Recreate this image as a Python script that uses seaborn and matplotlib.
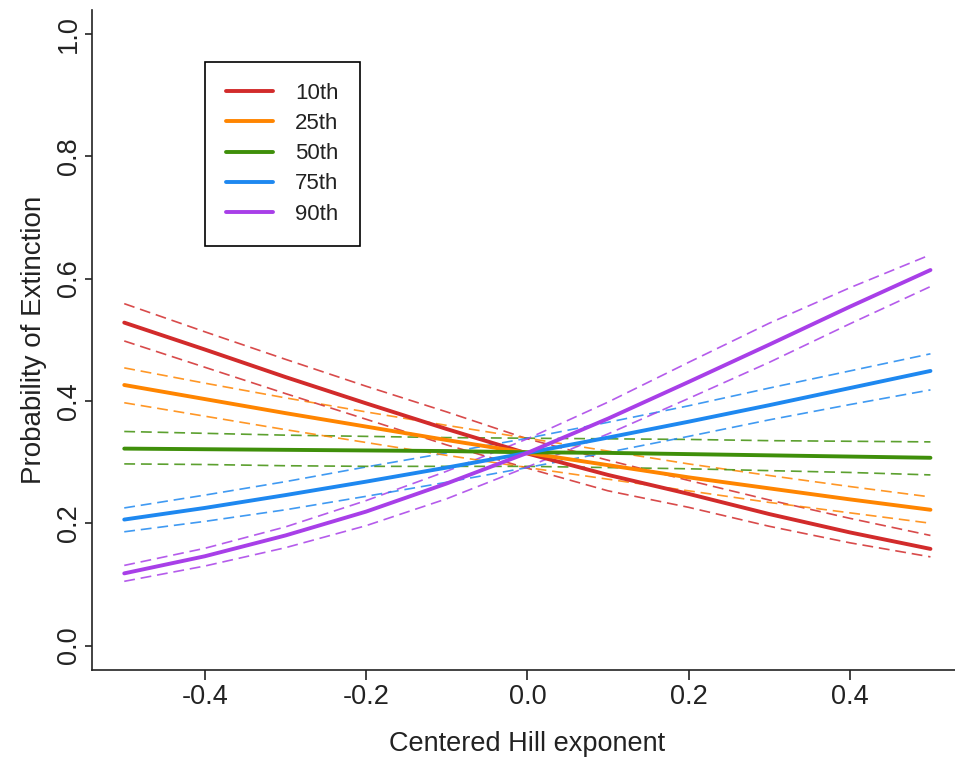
import numpy as np
import pandas as pd
import matplotlib
matplotlib.use("Agg")
import matplotlib.pyplot as plt
import seaborn as sns

# Data
hill = [-0.5, -0.4, -0.3, -0.2, -0.1, 0.0, 0.1, 0.2, 0.3, 0.4, 0.5]
groups = ["10th", "25th", "50th", "75th", "90th"]

mean_10 = [0.528, 0.484, 0.439, 0.396, 0.354, 0.314, 0.279, 0.248, 0.215, 0.185, 0.158]
upper_10 = [0.559, 0.513, 0.468, 0.424, 0.382, 0.338, 0.303, 0.270, 0.238, 0.208, 0.180]
lower_10 = [0.498, 0.455, 0.412, 0.370, 0.328, 0.290, 0.253, 0.226, 0.195, 0.168, 0.145]

mean_25 = [0.426, 0.403, 0.380, 0.358, 0.336, 0.315, 0.295, 0.275, 0.257, 0.239, 0.222]
upper_25 = [0.454, 0.429, 0.405, 0.382, 0.360, 0.339, 0.318, 0.297, 0.278, 0.260, 0.243]
lower_25 = [0.397, 0.375, 0.353, 0.332, 0.311, 0.291, 0.272, 0.253, 0.234, 0.217, 0.200]

mean_50 = [0.322, 0.321, 0.320, 0.319, 0.318, 0.316, 0.315, 0.313, 0.311, 0.309, 0.307]
upper_50 = [0.350, 0.347, 0.344, 0.342, 0.340, 0.339, 0.338, 0.337, 0.335, 0.334, 0.333]
lower_50 = [0.297, 0.296, 0.294, 0.293, 0.293, 0.293, 0.291, 0.289, 0.286, 0.283, 0.279]

mean_75 = [0.206, 0.225, 0.246, 0.268, 0.291, 0.315, 0.340, 0.366, 0.393, 0.421, 0.449]
upper_75 = [0.225, 0.246, 0.268, 0.292, 0.315, 0.339, 0.365, 0.392, 0.421, 0.449, 0.477]
lower_75 = [0.186, 0.203, 0.222, 0.244, 0.267, 0.291, 0.316, 0.342, 0.369, 0.394, 0.418]

mean_90 = [0.118, 0.146, 0.180, 0.219, 0.265, 0.315, 0.371, 0.431, 0.492, 0.554, 0.614]
upper_90 = [0.131, 0.159, 0.194, 0.237, 0.285, 0.338, 0.398, 0.463, 0.527, 0.585, 0.639]
lower_90 = [0.105, 0.130, 0.160, 0.196, 0.240, 0.292, 0.346, 0.404, 0.463, 0.526, 0.587]

colors = ["#D22B2B", "#FF8500", "#3F8F0A", "#1E88F0", "#A83FE8"]

means = [mean_10, mean_25, mean_50, mean_75, mean_90]
uppers = [upper_10, upper_25, upper_50, upper_75, upper_90]
lowers = [lower_10, lower_25, lower_50, lower_75, lower_90]

rows = []
for g, m, u, l in zip(groups, means, uppers, lowers):
    for x, mv, uv, lv in zip(hill, m, u, l):
        rows.append({"x": x, "group": g, "mean": mv, "upper": uv, "lower": lv})
df = pd.DataFrame(rows)

sns.set_style("ticks")
plt.rcParams["font.family"] = ["Liberation Sans", "DejaVu Sans"]

fig = plt.figure(figsize=(9.55, 7.58), dpi=100)
ax = fig.add_axes([92 / 955, 88 / 758, (962.7 - 92) / 955, (670 - 9.5) / 758])

palette = dict(zip(groups, colors))
for col in ["upper", "lower"]:
    sns.lineplot(data=df, x="x", y=col, hue="group", palette=palette, ax=ax,
                 linewidth=1.2, dashes=False, legend=False, alpha=0.85,
                 estimator=None, sort=True)
for line in ax.get_lines():
    line.set_dashes((6.5, 3.5))
sns.lineplot(data=df, x="x", y="mean", hue="group", palette=palette, ax=ax,
             linewidth=2.8, legend=True, estimator=None, sort=True)

TXT = "#222222"
FS = 19.5
ax.set_xlim(-0.54, 0.54)
ax.set_ylim(-0.04, 1.04)
ax.set_xticks([-0.4, -0.2, 0.0, 0.2, 0.4])
ax.set_xticklabels(["-0.4", "-0.2", "0.0", "0.2", "0.4"])
ax.set_yticks([0.0, 0.2, 0.4, 0.6, 0.8, 1.0])
ax.set_yticklabels(["0.0", "0.2", "0.4", "0.6", "0.8", "1.0"], rotation=90, va="center")
ax.tick_params(axis="both", width=1.2, color=TXT, labelsize=FS, labelcolor=TXT)
ax.tick_params(axis="x", length=7, pad=3)
ax.tick_params(axis="y", length=5, pad=2.5)
ax.set_xlabel("Centered Hill exponent", fontsize=FS, color=TXT, labelpad=15.5)
ax.set_ylabel("Probability of Extinction", fontsize=FS + 0.5, color=TXT, labelpad=6)
for s in ["top", "right"]:
    ax.spines[s].set_visible(False)
for s in ["left", "bottom"]:
    ax.spines[s].set_linewidth(1.2)
    ax.spines[s].set_color(TXT)

LFS = 16
handles, labels = ax.get_legend_handles_labels()
leg = ax.legend(handles, labels, loc="upper left",
                bbox_to_anchor=(205 / 955, (758 - 62) / 758),
                bbox_transform=fig.transFigure, fontsize=LFS, frameon=True,
                fancybox=False, edgecolor="black", handlelength=2.1,
                handletextpad=1.0, labelspacing=0.41, borderpad=0.95,
                borderaxespad=0, framealpha=1)
leg.get_frame().set_linewidth(1.2)
for t in leg.get_texts():
    t.set_color(TXT)

fig.savefig("out.png", dpi=100)
